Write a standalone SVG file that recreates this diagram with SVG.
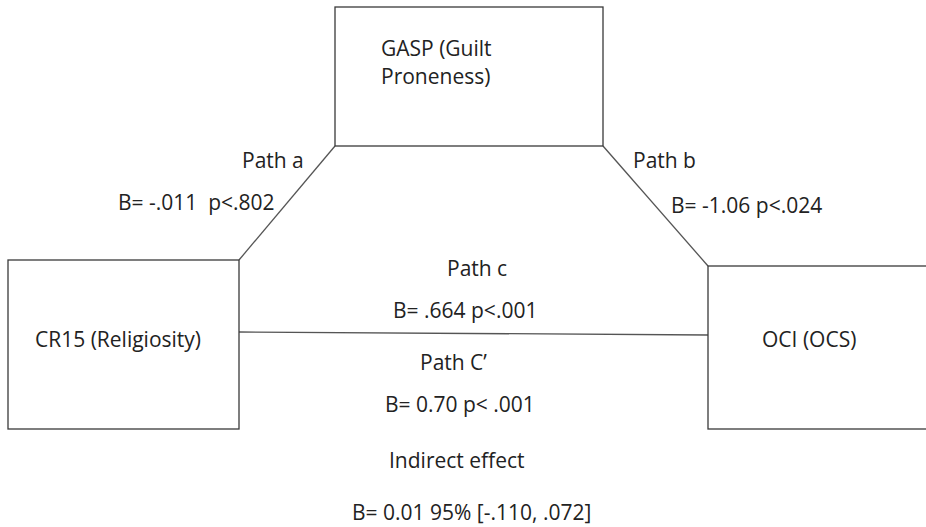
<svg xmlns="http://www.w3.org/2000/svg" width="926" height="527" viewBox="0 0 926 527">
<style>
.box{fill:#fff;stroke:#3a3a3a;stroke-width:1.3}
.ln{stroke:#555;stroke-width:1.3;fill:none}
text{font-family:"Open Sans","Liberation Sans",sans-serif;font-size:21px;fill:#222}
</style>
<rect width="926" height="527" fill="#fff"/>
<g id="connectors">
<line class="ln" x1="335" y1="146" x2="239" y2="260"/>
<line class="ln" x1="603" y1="146" x2="708" y2="266"/>
<line class="ln" x1="239" y1="332" x2="708" y2="335"/>
</g>
<g id="gasp">
<rect class="box" x="335" y="7" width="268" height="139"/>
<text x="381" y="56">GASP (Guilt</text>
<text x="381" y="84">Proneness)</text>
</g>
<g id="cr15">
<rect class="box" x="8" y="260" width="231" height="169"/>
<text x="35" y="347">CR15 (Religiosity)</text>
</g>
<g id="oci">
<rect class="box" x="708" y="266" width="230" height="163"/>
<text x="762" y="347">OCI (OCS)</text>
</g>
<g id="labels">
<text x="242" y="168">Path a</text>
<text x="118" y="210" xml:space="preserve">B= -.011  p&lt;.802</text>
<text x="633" y="168">Path b</text>
<text x="671" y="213">B= -1.06 p&lt;.024</text>
<text x="447" y="276">Path c</text>
<text x="393" y="318">B= .664 p&lt;.001</text>
<text x="420" y="370">Path C’</text>
<text x="385" y="412">B= 0.70 p&lt; .001</text>
<text x="389" y="468">Indirect effect</text>
<text x="352" y="520">B= 0.01 95% [-.110, .072]</text>
</g>
</svg>
